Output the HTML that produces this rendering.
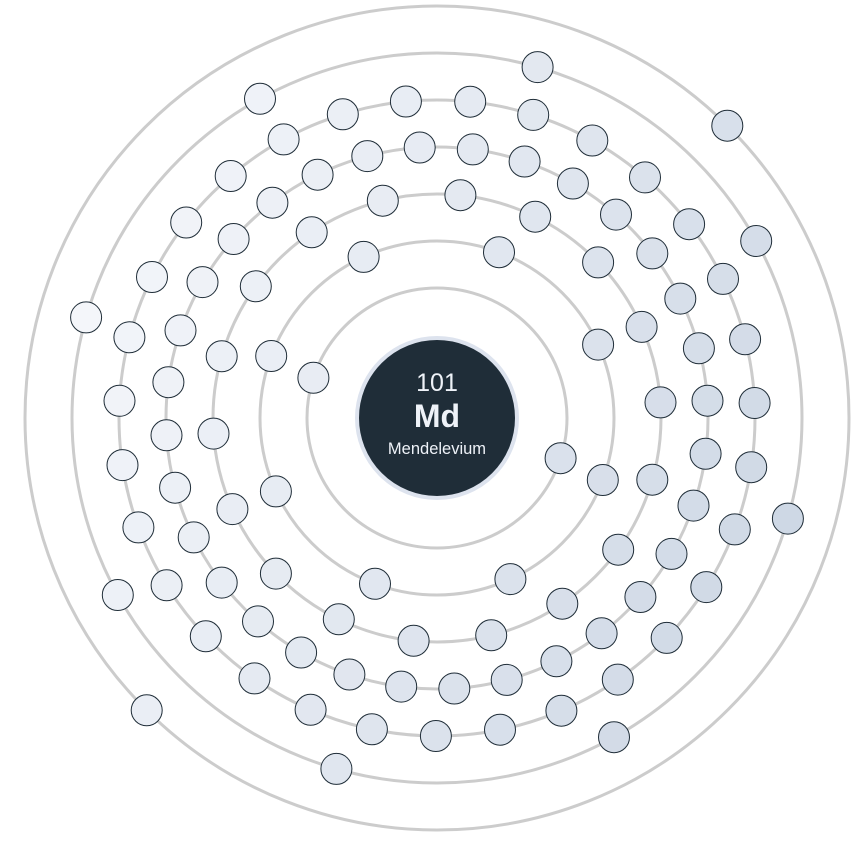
<!DOCTYPE html>
<html><head><meta charset="utf-8"><style>
html,body{margin:0;padding:0;background:#fff;}
svg{display:block;}
</style></head><body>
<svg id="chart" width="865" height="843" viewBox="0 0 865 843" xmlns="http://www.w3.org/2000/svg">
<g id="rings"></g>
<g id="electrons"></g>
<g>
<circle cx="437" cy="418" r="80" fill="#1f2d38" stroke="#dde3ee" stroke-width="4"/>
<text x="437" y="391" text-anchor="middle" font-family="Liberation Sans, sans-serif" font-size="25" fill="#eef2f8">101</text>
<text x="437" y="427" text-anchor="middle" font-family="Liberation Sans, sans-serif" font-size="32" font-weight="bold" fill="#eef2f8">Md</text>
<text x="437" y="454" text-anchor="middle" font-family="Liberation Sans, sans-serif" font-size="16.5" fill="#eef2f8">Mendelevium</text>
</g>
</svg>
<script>
const shellCounts = [2, 8, 18, 32, 31, 8, 2];
const shellStartAngles = [198, 245.5, 276, 277.6, 276, 286, 314.8];
const cx = 437, cy = 418, r0 = 130, dr = 47;
const NS = 'http://www.w3.org/2000/svg';
const rings = document.getElementById('rings');
const elg = document.getElementById('electrons');
function radius(i){ return r0 + dr * i; }
function lerp(a,b,t){ return Math.round(a+(b-a)*t); }
shellCounts.forEach((n, i) => {
  const r = radius(i);
  const c = document.createElementNS(NS, 'circle');
  c.setAttribute('cx', cx); c.setAttribute('cy', cy); c.setAttribute('r', r);
  c.setAttribute('fill', 'none'); c.setAttribute('stroke', '#cccccc'); c.setAttribute('stroke-width', '3');
  
  
  rings.appendChild(c);
});
shellCounts.forEach((n, i) => {
  const r = radius(i);
  for (let k = 0; k < n; k++) {
    const a = (shellStartAngles[i] + 360 * k / n) * Math.PI / 180;
    const x = cx + r * Math.cos(a), y = cy + r * Math.sin(a);
    let t = ((x - 140) / 700) * 0.8 + ((y - 100) / 700) * 0.3;
    t = Math.max(0, Math.min(1, t));
    const fill = 'rgb(' + lerp(245,203,t) + ',' + lerp(247,213,t) + ',' + lerp(251,227,t) + ')';
    const e = document.createElementNS(NS, 'circle');
    e.setAttribute('cx', x.toFixed(1)); e.setAttribute('cy', y.toFixed(1)); e.setAttribute('r', 15.5);
    e.setAttribute('fill', fill); e.setAttribute('stroke', '#1f2d38'); e.setAttribute('stroke-width', '1');
    
    
    elg.appendChild(e);
  }
});
</script>
</body></html>
